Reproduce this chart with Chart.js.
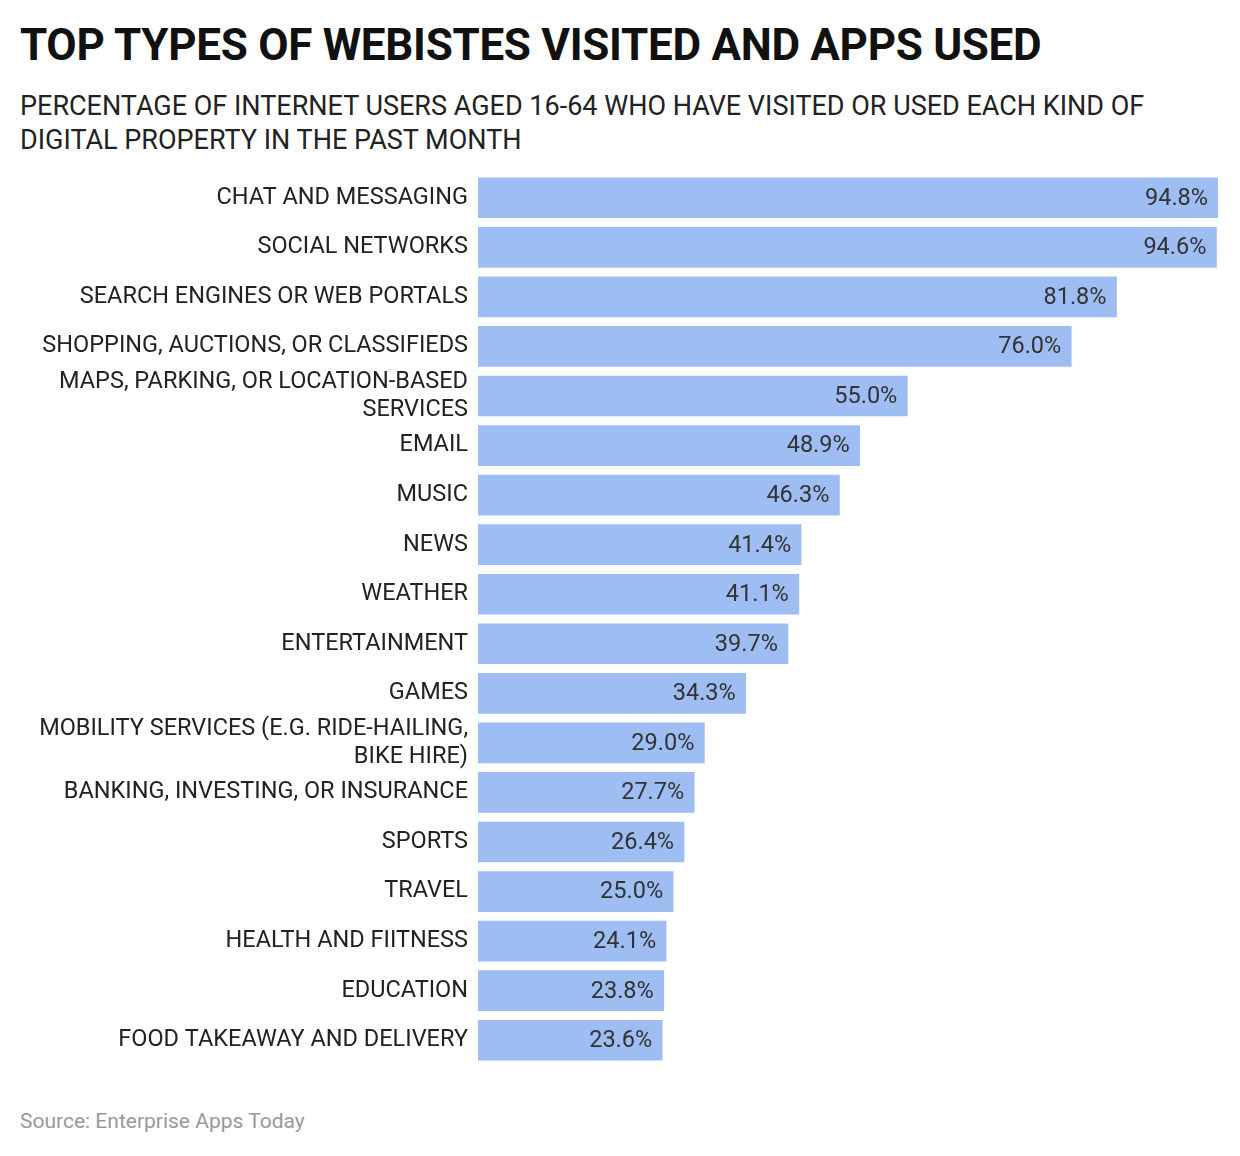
<!DOCTYPE html>
<html>
<head>
<meta charset="utf-8">
<script src="https://cdn.jsdelivr.net/npm/chart.js@4"></script>
<style>
  body { margin: 0; background: #fff; font-family: Roboto, sans-serif; width: 1240px; height: 1156px; position: relative; }
  h1 { position: absolute; left: 20px; top: 19px; margin: 0; font-size: 44px; font-weight: 700; color: #111; letter-spacing: -0.3px; }
  .sub { position: absolute; left: 20px; top: 89px; margin: 0; font-size: 27px; line-height: 34px; color: #222; width: 1190px; }
  .src { position: absolute; left: 20px; top: 1109px; font-size: 21px; color: #999; }
  #wrap { position: absolute; left: 10px; top: 173px; width: 1208px; height: 892px; }
</style>
</head>
<body>
<h1>TOP TYPES OF WEBISTES VISITED AND APPS USED</h1>
<p class="sub">PERCENTAGE OF INTERNET USERS AGED 16-64 WHO HAVE VISITED OR USED EACH KIND OF DIGITAL PROPERTY IN THE PAST MONTH</p>
<div id="wrap"><canvas id="chart"></canvas></div>
<div class="src">Source: Enterprise Apps Today</div>
<script>
const kategorien = [
  "CHAT AND MESSAGING",
  "SOCIAL NETWORKS",
  "SEARCH ENGINES OR WEB PORTALS",
  "SHOPPING, AUCTIONS, OR CLASSIFIEDS",
  ["MAPS, PARKING, OR LOCATION-BASED", "SERVICES"],
  "EMAIL",
  "MUSIC",
  "NEWS",
  "WEATHER",
  "ENTERTAINMENT",
  "GAMES",
  ["MOBILITY SERVICES (E.G. RIDE-HAILING,", "BIKE HIRE)"],
  "BANKING, INVESTING, OR INSURANCE",
  "SPORTS",
  "TRAVEL",
  "HEALTH AND FIITNESS",
  "EDUCATION",
  "FOOD TAKEAWAY AND DELIVERY"
];
const werte = [94.8, 94.6, 81.8, 76.0, 55.0, 48.9, 46.3, 41.4, 41.1, 39.7, 34.3, 29.0, 27.7, 26.4, 25.0, 24.1, 23.8, 23.6];

// Werte rechts in den Balken schreiben
const wertLabels = {
  id: "wertLabels",
  afterDatasetsDraw(chart) {
    const ctx = chart.ctx;
    const meta = chart.getDatasetMeta(0);
    ctx.save();
    ctx.font = "23.5px Roboto";
    ctx.fillStyle = "#333";
    ctx.textAlign = "right";
    ctx.textBaseline = "middle";
    meta.data.forEach((bar, i) => {
      ctx.fillText(werte[i].toFixed(1) + "%", bar.x - 10, bar.y + 1);
    });
    ctx.restore();
  }
};

new Chart(document.getElementById("chart").getContext("2d"), {
  type: "bar",
  data: {
    labels: kategorien,
    datasets: [{
      data: werte,
      backgroundColor: "#9dbdf3",
      barThickness: 40,
      borderWidth: 0
    }]
  },
  options: {
    indexAxis: "y",
    responsive: true,
    maintainAspectRatio: false,
    animation: false,
    layout: { padding: 0 },
    scales: {
      x: { display: false, min: 0, max: 94.8 },
      y: {
        afterFit: axis => {
          axis.width = 468;
          axis.paddingTop = 0;
          axis.paddingBottom = 0;
        },
        grid: { display: false, drawTicks: false },
        border: { display: false },
        ticks: {
          autoSkip: false,
          padding: 10,
          color: "#222",
          font: { family: "Roboto", size: 23.5, lineHeight: 1.2 }
        }
      }
    },
    plugins: {
      legend: { display: false },
      tooltip: { enabled: false }
    }
  },
  plugins: [wertLabels]
});
</script>
</body>
</html>
